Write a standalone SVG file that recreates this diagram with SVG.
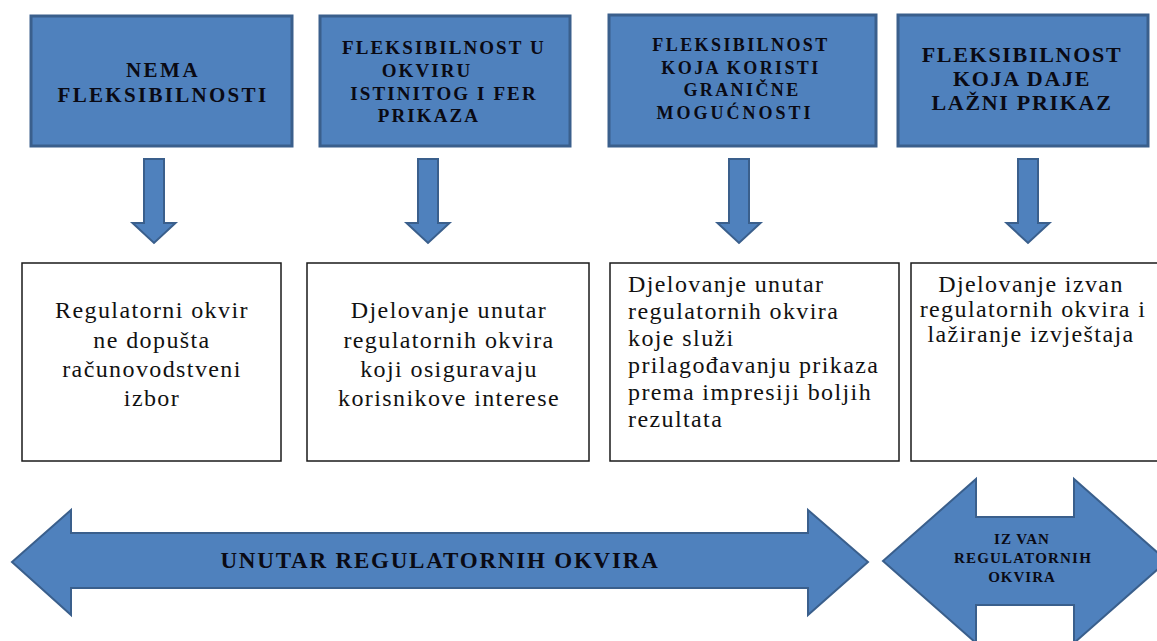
<svg xmlns="http://www.w3.org/2000/svg" width="1157" height="641" viewBox="0 0 1157 641">
<style>
.hdr{fill:#4f81bd;stroke:#3a5f8c;stroke-width:3}
.box{fill:#fff;stroke:#1a1a1a;stroke-width:1.5}
.arr{fill:#4f81bd;stroke:#3a5f8c;stroke-width:2;stroke-linejoin:miter}
.ht{font-family:"Liberation Serif","Times New Roman",serif;font-weight:bold;fill:#0a0a14;text-anchor:middle}
.bt{font-family:"Liberation Serif","Times New Roman",serif;font-size:24px;letter-spacing:1.4px;fill:#111}
.c{text-anchor:middle}
</style>
<rect width="1157" height="641" fill="#fff"/>
<g id="connectors">
<path class="arr" d="M144,159 H164 V223 H175.5 L154,243 L132.5,223 H144 Z"/>
<path class="arr" d="M418,159 H438 V223 H449.5 L428,243 L406.5,223 H418 Z"/>
<path class="arr" d="M729,159 H749 V223 H760.5 L739,243 L717.5,223 H729 Z"/>
<path class="arr" d="M1018,159 H1038 V223 H1049.5 L1028,243 L1006.5,223 H1018 Z"/>
</g>
<g id="h1">
<rect class="hdr" x="31" y="16" width="261" height="130"/>
<text class="ht" font-size="21" letter-spacing="2.5" x="163" y="77">NEMA</text>
<text class="ht" font-size="21" letter-spacing="2.3" x="163" y="102">FLEKSIBILNOSTI</text>
</g>
<g id="h2">
<rect class="hdr" x="320" y="16" width="250" height="130"/>
<text class="ht" font-size="19" letter-spacing="2.1" x="444" y="54">FLEKSIBILNOST U</text>
<text class="ht" font-size="19" letter-spacing="2.1" x="427" y="77">OKVIRU</text>
<text class="ht" font-size="19" letter-spacing="2.1" x="444" y="100">ISTINITOG I FER</text>
<text class="ht" font-size="19" letter-spacing="2.1" x="429" y="122">PRIKAZA</text>
</g>
<g id="h3">
<rect class="hdr" x="609" y="15" width="267" height="131"/>
<text class="ht" font-size="18" letter-spacing="2.4" x="741" y="51">FLEKSIBILNOST</text>
<text class="ht" font-size="18" letter-spacing="2.4" x="741" y="74">KOJA KORISTI</text>
<text class="ht" font-size="18" letter-spacing="2.4" x="742" y="96">GRANIČNE</text>
<text class="ht" font-size="18" letter-spacing="3" x="735" y="119">MOGUĆNOSTI</text>
</g>
<g id="h4">
<rect class="hdr" x="898" y="15" width="250" height="131"/>
<text class="ht" font-size="22" letter-spacing="1.7" x="1022" y="62">FLEKSIBILNOST</text>
<text class="ht" font-size="22" letter-spacing="1.7" x="1022" y="86">KOJA DAJE</text>
<text class="ht" font-size="22" letter-spacing="1.7" x="1022" y="110">LAŽNI PRIKAZ</text>
</g>
<g id="w1">
<rect class="box" x="22" y="263" width="259" height="198"/>
<text class="bt c" x="152" y="318">Regulatorni okvir</text>
<text class="bt c" x="152" y="347.5">ne dopušta</text>
<text class="bt c" x="152" y="377">računovodstveni</text>
<text class="bt c" x="152" y="406">izbor</text>
</g>
<g id="w2">
<rect class="box" x="307" y="263" width="282" height="198"/>
<text class="bt c" x="449" y="318">Djelovanje unutar</text>
<text class="bt c" x="449" y="347.5">regulatornih okvira</text>
<text class="bt c" x="449" y="377">koji osiguravaju</text>
<text class="bt c" x="449" y="406">korisnikove interese</text>
</g>
<g id="w3">
<rect class="box" x="610" y="263" width="289" height="198"/>
<text class="bt" x="628" y="291.5">Djelovanje unutar</text>
<text class="bt" x="628" y="318.5">regulatornih okvira</text>
<text class="bt" x="628" y="345.5">koje služi</text>
<text class="bt" x="628" y="372.5">prilagođavanju prikaza</text>
<text class="bt" x="628" y="399.5">prema impresiji boljih</text>
<text class="bt" x="628" y="426.5">rezultata</text>
</g>
<g id="w4">
<rect class="box" x="911" y="263" width="260" height="198"/>
<text class="bt c" x="1031" y="292">Djelovanje izvan</text>
<text class="bt c" x="1033" y="317">regulatornih okvira i</text>
<text class="bt c" x="1031" y="342">lažiranje izvještaja</text>
</g>
<g id="inside">
<path class="arr" d="M12,562 L71,510 V533 H808 V510 L868,562 L808,615 V588 H71 V615 Z"/>
<text class="ht" font-size="23" letter-spacing="1.8" x="440" y="568">UNUTAR REGULATORNIH OKVIRA</text>
</g>
<g id="outside">
<path class="arr" d="M883,561 L976,479 V517 H1074 V479 L1167,561 L1074,643 V605 H976 V643 Z"/>
<text class="ht" font-size="15" letter-spacing="1" x="1022" y="544">IZ VAN</text>
<text class="ht" font-size="15" letter-spacing="1.2" x="1023" y="563">REGULATORNIH</text>
<text class="ht" font-size="15" letter-spacing="1" x="1022" y="582">OKVIRA</text>
</g>
</svg>
